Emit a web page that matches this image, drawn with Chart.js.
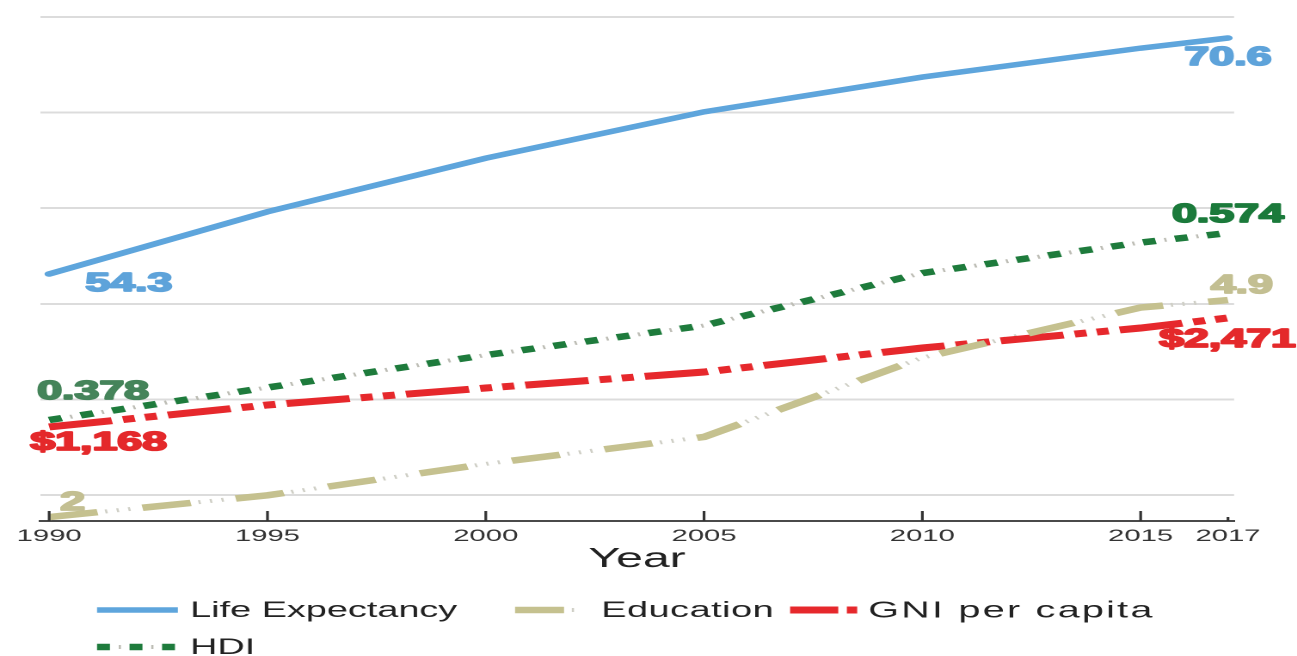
<!DOCTYPE html>
<html>
<head>
<meta charset="utf-8">
<script src="https://cdn.jsdelivr.net/npm/chart.js@4/dist/chart.umd.min.js"></script>
<style>
  html, body { margin: 0; padding: 0; background: #fff; overflow: hidden; }
  /* the chart is laid out narrow and widened, giving the broad lettering */
  #wrap { position: absolute; left: 0; top: 0; width: 754px; height: 656px;
          transform: scaleX(1.7202); transform-origin: 0 0; }
</style>
</head>
<body>
<div id="wrap"><canvas id="c"></canvas></div>
<script>
// Human development trends, 1990-2017
const years = [1990, 1995, 2000, 2005, 2010, 2015, 2017];
const yearTicks = [1990, 1995, 2000, 2005, 2010, 2015, 2017];
const lifeExpectancy = [54.3, 58.6, 62.3, 65.5, 67.9, 69.9, 70.6];
const education = [2.0, 2.29, 2.71, 3.07, 4.13, 4.8, 4.9];
const gniPerCapita = [1168, 1431, 1634, 1825, 2112, 2351, 2471];
const hdi = [0.378, 0.412, 0.446, 0.477, 0.532, 0.564, 0.574];
const seriesNames = ['Life Expectancy', 'Education', 'GNI per capita', 'HDI'];
const gridSteps = [0, 1, 2, 3, 4, 5];

const FONT = "'Liberation Sans', Arial, Helvetica, sans-serif";
const toXY = arr => years.map((x, i) => ({ x, y: arr[i] }));

const COLORS = {
  life: '#5ea5dc',
  edu: '#c5c18f',
  gni: '#e6282c',
  hdi: '#1e7b3c'
};

const datasets = [
  { label: seriesNames[0], key: 'life', data: toXY(lifeExpectancy), yAxisID: 'yLife',
    borderColor: COLORS.life, borderWidth: 5.5, borderCapStyle: 'round' },
  { label: seriesNames[1], key: 'edu', data: toXY(education), yAxisID: 'yEdu',
    borderColor: COLORS.edu, borderWidth: 6.5, borderDash: [28.5, 26.5] },
  { label: seriesNames[2], key: 'gni', data: toXY(gniPerCapita), yAxisID: 'yGni',
    borderColor: COLORS.gni, borderWidth: 7, borderDash: [37, 6.5, 7, 6, 7, 6.5] },
  { label: seriesNames[3], key: 'hdi', data: toXY(hdi), yAxisID: 'yHdi',
    borderColor: COLORS.hdi, borderWidth: 6.5, borderDash: [7.5, 11.4] },
  // faint ticks sitting in the gaps of the dashed lines
  { label: 'edu-ticks', key: 'eduTicks', data: toXY(education), yAxisID: 'yEdu',
    borderColor: '#cfcfc6', borderWidth: 4, borderDash: [1.3, 5.5, 1.3, 5.5, 1.3, 40.1], borderDashOffset: 22 },
  { label: 'hdi-ticks', key: 'hdiTicks', data: toXY(hdi), yAxisID: 'yHdi',
    borderColor: '#bdbdb5', borderWidth: 4, borderDash: [1.3, 17.6], borderDashOffset: 6.3 }
].map(d => Object.assign({ pointRadius: 0, pointHoverRadius: 0, tension: 0, fill: false }, d));

const formatters = {
  life: v => v.toFixed(1),
  edu: v => String(v),
  gni: v => '$' + v.toLocaleString('en-US'),
  hdi: v => v.toFixed(3)
};

// value labels at both ends of each line (dx/dy relative to the point)
const valueLabels = [
  { ds: 0, end: 'first', align: 'left',   dx: 21,  dy: 10,  color: '#5ea3da' },
  { ds: 0, end: 'last',  align: 'center', dx: 0,   dy: 20,  color: '#5ea3da' },
  { ds: 1, end: 'first', align: 'left',   dx: 6.4, dy: -14, color: '#c3bf92' },
  { ds: 1, end: 'last',  align: 'left',   dx: -10, dy: -14, color: '#c3bf92' },
  { ds: 2, end: 'first', align: 'left',   dx: -11, dy: 16,  color: '#e4292b' },
  { ds: 2, end: 'last',  align: 'left',   dx: -40, dy: 22,  color: '#e4292b' },
  { ds: 3, end: 'first', align: 'left',   dx: -7,  dy: -28, color: '#45845a' },
  { ds: 3, end: 'last',  align: 'center', dx: 0,   dy: -18, color: '#1b7a3b' }
];

const valueLabelPlugin = {
  id: 'valueLabels',
  afterDatasetsDraw(chart) {
    const ctx = chart.ctx;
    ctx.save();
    ctx.font = 'bold 26px ' + FONT;
    ctx.textBaseline = 'middle';
    ctx.lineJoin = 'round';
    valueLabels.forEach(l => {
      const ds = chart.data.datasets[l.ds];
      const meta = chart.getDatasetMeta(l.ds);
      const i = l.end === 'first' ? 0 : ds.data.length - 1;
      const pt = meta.data[i];
      const text = formatters[ds.key](ds.data[i].y);
      ctx.textAlign = l.align;
      ctx.fillStyle = l.color;
      ctx.strokeStyle = l.color;
      ctx.lineWidth = 1.8;
      ctx.strokeText(text, pt.x + l.dx, pt.y + l.dy);
      ctx.fillText(text, pt.x + l.dx, pt.y + l.dy);
    });
    ctx.restore();
  }
};

// short upward tick marks on the year axis
const axisTickPlugin = {
  id: 'axisTicks',
  afterDraw(chart) {
    const sx = chart.scales.x;
    const ctx = chart.ctx;
    ctx.save();
    ctx.strokeStyle = '#333';
    ctx.lineWidth = 1.6;
    sx.ticks.forEach((t, k) => {
      const px = sx.getPixelForValue(t.value);
      const len = k === sx.ticks.length - 1 ? 4 : 10;
      ctx.beginPath();
      ctx.moveTo(px, sx.top);
      ctx.lineTo(px, sx.top - len);
      ctx.stroke();
    });
    ctx.restore();
  }
};

// legend drawn below the axis title
const legendLayout = [
  { ds: 0, row: 0, x: 56.4,  len: 47, textX: 110.5, size: 22, spacing: 0 },
  { ds: 1, row: 0, x: 299.4, len: 38, textX: 349.5, size: 22, spacing: 0.3 },
  { ds: 2, row: 0, x: 459.3, len: 39, textX: 504.7, size: 23, spacing: 1.3, dash: [28, 5, 6, 100] },
  { ds: 3, row: 1, x: 56.4,  len: 47, textX: 110.5, size: 22, spacing: 0 }
];
const legendRows = [610, 647];
const legendOverlay = { 1: 4, 3: 5 };

const legendPlugin = {
  id: 'bottomLegend',
  afterDraw(chart) {
    const ctx = chart.ctx;
    ctx.save();
    legendLayout.forEach(item => {
      const ds = chart.data.datasets[item.ds];
      const y = legendRows[item.row];
      const drawSample = (d, dash) => {
        ctx.beginPath();
        ctx.setLineDash(dash || d.borderDash || []);
        ctx.lineDashOffset = d.borderDashOffset || 0;
        ctx.strokeStyle = d.borderColor;
        ctx.lineWidth = d.borderWidth;
        ctx.lineCap = 'butt';
        ctx.moveTo(item.x, y);
        ctx.lineTo(item.x + item.len, y);
        ctx.stroke();
      };
      drawSample(ds, item.dash);
      if (legendOverlay[item.ds] !== undefined) drawSample(chart.data.datasets[legendOverlay[item.ds]]);
      ctx.setLineDash([]);
      ctx.fillStyle = '#222';
      ctx.font = item.size + 'px ' + FONT;
      ctx.letterSpacing = item.spacing + 'px';
      ctx.textAlign = 'left';
      ctx.textBaseline = 'middle';
      ctx.fillText(ds.label, item.textX, y + 1);
    });
    ctx.restore();
  }
};

new Chart(document.getElementById('c'), {
  type: 'line',
  data: { datasets },
  plugins: [valueLabelPlugin, axisTickPlugin, legendPlugin],
  options: {
    responsive: true,
    maintainAspectRatio: false,
    devicePixelRatio: 2,
    animation: false,
    events: [],
    layout: { padding: { left: 23.25, right: 36.6, top: 17, bottom: 80 } },
    plugins: { legend: { display: false }, tooltip: { enabled: false }, title: { display: false } },
    scales: {
      x: {
        type: 'linear',
        min: 1989.79,
        max: 2017.14,
        afterBuildTicks: s => { s.ticks = yearTicks.map(v => ({ value: v })); },
        afterFit: s => { s.height = 55; },
        grid: { display: false, drawTicks: false },
        border: { display: true, color: '#4a4a4a', width: 2 },
        ticks: {
          autoSkip: false, maxRotation: 0, minRotation: 0, padding: 5,
          color: '#333', font: { family: FONT, size: 17 },
          callback: v => String(v)
        },
        title: {
          display: true, text: 'Year', color: '#222',
          font: { family: FONT, size: 28 }, padding: { top: 0, bottom: 0 }
        }
      },
      yGrid: {
        position: 'left',
        min: -0.272,
        max: 5,
        afterBuildTicks: s => { s.ticks = gridSteps.map(v => ({ value: v })); },
        ticks: { display: false },
        grid: { color: '#dcdcdc', lineWidth: 2, drawTicks: false },
        border: { display: false }
      },
      yLife: { display: false, min: 37.24, max: 72.05 },
      yEdu:  { display: false, min: 1.947, max: 8.683 },
      yGni:  { display: false, min: 44, max: 6069 },
      yHdi:  { display: false, min: 0.2721, max: 0.8004 }
    }
  }
});
</script>
</body>
</html>
